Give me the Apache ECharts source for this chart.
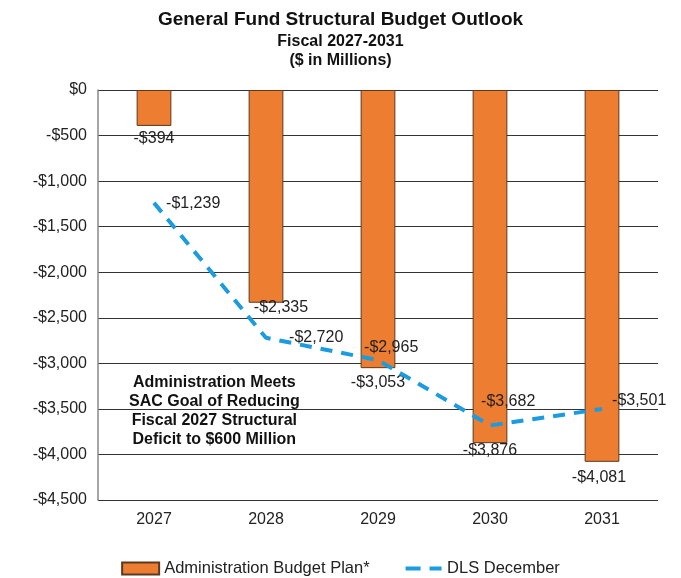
<!DOCTYPE html>
<html><head><meta charset="utf-8">
<script src="https://cdn.jsdelivr.net/npm/echarts@6/dist/echarts.min.js"></script>
<style>html,body{margin:0;padding:0;background:#fff}#c{width:681px;height:578px}</style>
</head><body><div id="c"></div>
<script>
var categories = ['2027', '2028', '2029', '2030', '2031'];
var adminPlan = [-394, -2335, -3053, -3876, -4081];
var dlsDecember = [-1239, -2720, -2965, -3682, -3501];
var seriesNames = ['Administration Budget Plan*', 'DLS December'];
var noteText = 'Administration Meets\nSAC Goal of Reducing\nFiscal 2027 Structural\nDeficit to $600 Million';

function money(v) {
  var a = Math.abs(v).toLocaleString('en-US');
  return (v < 0 ? '-$' : '$') + a;
}
var barLabelOffsets = [[0, 2], [15, -6], [0, 3], [0, -4], [-3, 5]];
var lineLabelOffsets = [[7, 1], [18, 0], [-19, -13], [-14, -24], [5, -8]];

var chart = echarts.init(document.getElementById('c'));
var FONT = 'Liberation Sans, Arial, sans-serif';
chart.setOption({
  animation: false,
  textStyle: { fontFamily: FONT },
  title: [
    { text: 'General Fund Structural Budget Outlook', left: 'center', top: 5,
      textStyle: { fontSize: 19, fontWeight: 'bold', color: '#111', fontFamily: FONT } },
    { text: 'Fiscal 2027-2031\n($ in Millions)', left: 'center', top: 27,
      textStyle: { fontSize: 16, fontWeight: 'bold', color: '#111', lineHeight: 19, fontFamily: FONT } }
  ],
  grid: { left: 98, right: 23, top: 90, bottom: 78 },
  xAxis: {
    type: 'category', data: categories,
    axisLine: { show: false }, axisTick: { show: false },
    axisLabel: { fontSize: 16, color: '#222', margin: 12 }
  },
  yAxis: {
    type: 'value', min: -4500, max: 0, interval: 500,
    axisLine: { show: true, lineStyle: { color: '#888', width: 1.5 } },
    axisTick: { show: false },
    axisLabel: { fontSize: 16, color: '#222', margin: 11, formatter: money },
    splitLine: { lineStyle: { color: '#333', width: 1 } }
  },
  legend: {
    top: 555, left: 'center', itemGap: 36, itemWidth: 37, itemHeight: 12,
    textStyle: { fontSize: 16.5, color: '#222' },
    data: [
      { name: seriesNames[0], icon: 'rect' },
      { name: seriesNames[1],
        icon: 'path://M0,0h0.01v0.01h-0.01z M0,4h15v4h-15z M24,4h12v4h-12z M0,12h0.01v0.01h-0.01z',
        itemStyle: { color: '#1b9be0', borderWidth: 0, opacity: 1 } }
    ]
  },
  graphic: [{
    type: 'text', left: 129, top: 373,
    style: { text: noteText, font: 'bold 16px ' + FONT, fill: '#111', textAlign: 'center', lineHeight: 19 }
  }],
  series: [
    {
      name: seriesNames[0], type: 'bar', barWidth: '31%',
      data: adminPlan.map(function (v, i) {
        return { value: v, label: { offset: barLabelOffsets[i] } };
      }),
      itemStyle: { color: '#ED7D31', borderColor: '#5b3a22', borderWidth: 1 },
      label: { show: true, position: 'bottom', distance: 3, fontSize: 16, color: '#222', formatter: function (p) { return money(p.value); } }
    },
    {
      name: seriesNames[1], type: 'line', showSymbol: true, symbol: 'circle', symbolSize: 0.1,
      data: dlsDecember.map(function (v, i) {
        return { value: v, label: { offset: lineLabelOffsets[i] } };
      }),
      lineStyle: { color: '#1b9be0', width: 4, type: [12, 9] },
      itemStyle: { color: '#1b9be0' },
      label: { show: true, position: 'right', distance: 5, fontSize: 16, color: '#222', formatter: function (p) { return money(p.value); } },
      z: 3
    }
  ]
});
</script></body></html>
